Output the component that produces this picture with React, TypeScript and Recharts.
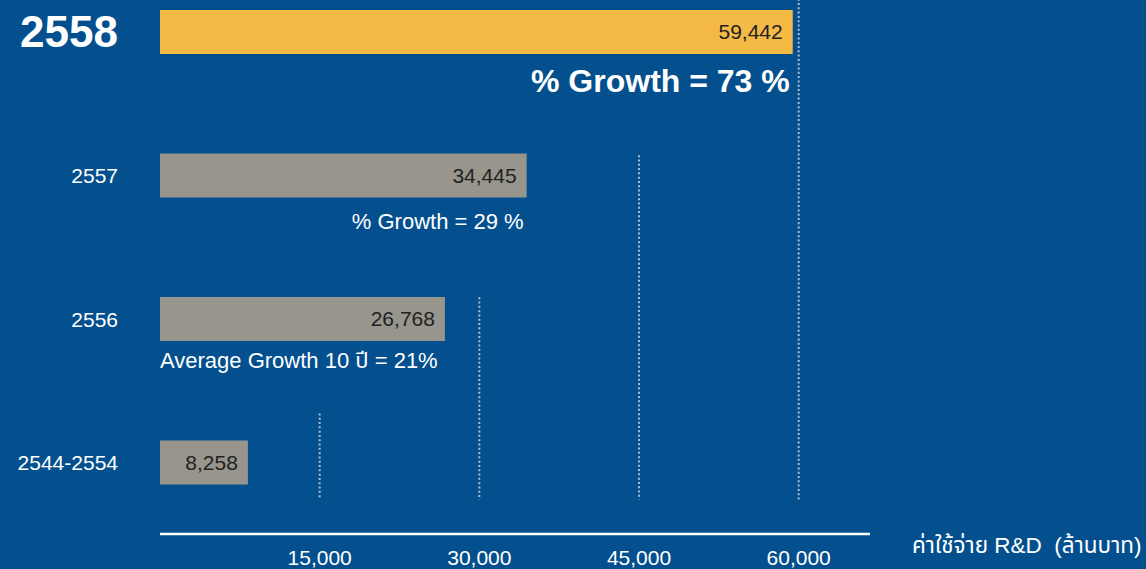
import React from "react";
import { BarChart, Bar, XAxis, YAxis, Cell, LabelList, ReferenceLine } from "recharts";

const years = ["2558", "2557", "2556", "2544-2554"];
const spend = [59442, 34445, 26768, 8258];
const notes = ["% Growth = 73 %", "% Growth = 29 %", "Average Growth 10 ปี = 21%", ""];
const xTicks = [15000, 30000, 45000, 60000];
// dotted guides: where each starts / ends, in row units (0 = top of first row)
const guideTop = [3.16, 2.35, 1.36, 0.0];
const guideBottom = 3.76;

const BG = "#04508E";
const FONT = '"Liberation Sans", "Noto Sans", "Noto Sans Thai", sans-serif';

const data = years.map((y, i) => ({ year: y, value: spend[i], note: notes[i] }));

const YearTick = (props: any) => {
  const { x, y, payload } = props;
  const big = payload.index === 0;
  return (
    <text
      x={x}
      y={y + (big ? 15 : 8)}
      textAnchor="end"
      fill="#fff"
      fontFamily={FONT}
      fontSize={big ? 44 : 21}
      fontWeight={big ? 700 : 400}
    >
      {payload.value}
    </text>
  );
};

const NoteLabel = (props: any) => {
  const { x, y, width, height, index } = props;
  const txt = notes[index];
  if (!txt) return null;
  if (index === 0) {
    return (
      <text x={x + width - 3} y={y + height + 38} textAnchor="end" fill="#fff" fontFamily={FONT} fontSize={32} fontWeight={700}>
        {txt}
      </text>
    );
  }
  if (index === 1) {
    return (
      <text x={x + width - 3} y={y + height + 31} textAnchor="end" fill="#fff" fontFamily={FONT} fontSize={22}>
        {txt}
      </text>
    );
  }
  return (
    <text x={x} y={y + height + 27} textAnchor="start" fill="#fff" fontFamily={FONT} fontSize={22}>
      {txt}
    </text>
  );
};

const guideShape = (i: number) => (p: any) => {
  const top = Math.min(p.y1, p.y2);
  const bottom = Math.max(p.y1, p.y2);
  const row = (bottom - top) / years.length;
  return (
    <line
      x1={p.x1}
      x2={p.x2}
      y1={top + guideTop[i] * row}
      y2={top + guideBottom * row}
      stroke="#b2bccb"
      strokeWidth={2}
      strokeDasharray="2 2.3"
    />
  );
};

export default function App() {
  return (
    <div style={{ position: "absolute", left: 0, top: 0, width: 1146, height: 569, background: BG, overflow: "hidden" }}>
      <div style={{ position: "absolute", left: 0, top: -60 }}>
        <BarChart
          width={1146}
          height={634}
          data={data}
          layout="vertical"
          margin={{ top: 20, right: 276, bottom: 0, left: 0 }}
        >
          <XAxis
            type="number"
            domain={[0, 66700]}
            ticks={xTicks}
            tickFormatter={(v: number) => v.toLocaleString("en-US")}
            tickLine={false}
            tickSize={0}
            tickMargin={16}
            height={40}
            axisLine={{ stroke: "#fff", strokeWidth: 2.5 }}
            tick={{ fill: "#fff", fontSize: 21, fontFamily: FONT }}
            label={(p: any) => {
              const vb = p.viewBox;
              return (
                <text
                  x={vb.x + vb.width + 42}
                  y={vb.y + 19}
                  fill="#fff"
                  fontSize={22.5}
                  fontFamily={FONT}
                  style={{ whiteSpace: "pre" }}
                >
                  {"ค่าใช้จ่าย R&D  (ล้านบาท)"}
                </text>
              );
            }}
          />
          <YAxis type="category" dataKey="year" width={160} axisLine={false} tickLine={false} tickSize={0} tickMargin={42} tick={<YearTick />} />
          {xTicks.map((t, i) => (
            <ReferenceLine key={t} x={t} shape={guideShape(i)} ifOverflow="visible" />
          ))}
          <Bar dataKey="value" barSize={44} isAnimationActive={false}>
            {data.map((d, i) => (
              <Cell key={d.year} fill={i === 0 ? "#F5B946" : "#97958C"} />
            ))}
            <LabelList
              dataKey="value"
              position="insideRight"
              offset={10}
              formatter={(v: any) => Number(v).toLocaleString("en-US")}
              fill="#222"
              fontSize={21}
              fontFamily={FONT}
            />
            <LabelList dataKey="note" content={<NoteLabel />} />
          </Bar>
        </BarChart>
      </div>
    </div>
  );
}
